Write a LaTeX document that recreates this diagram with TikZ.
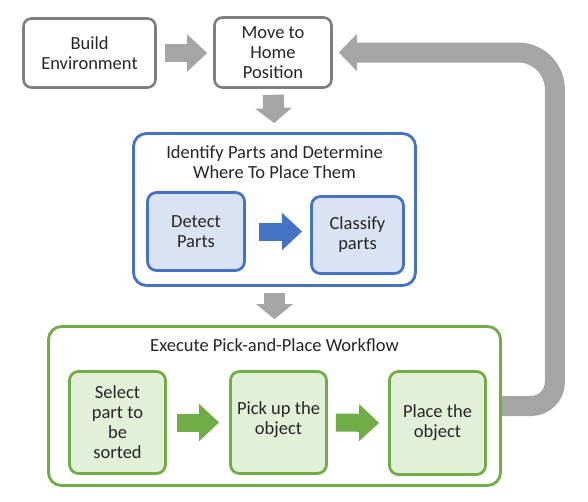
\documentclass[tikz,border=0pt]{standalone}
\usepackage{fontspec}
\setmainfont{Carlito}
\usetikzlibrary{arrows.meta}
\definecolor{boxgray}{HTML}{7F7F7F}
\definecolor{arrgray}{HTML}{A5A5A5}
\definecolor{bblue}{HTML}{4472C4}
\definecolor{lblue}{HTML}{DAE3F3}
\definecolor{bgreen}{HTML}{70AD47}
\definecolor{lgreen}{HTML}{E2F0D9}
\definecolor{txt}{HTML}{262626}
\begin{document}
\begin{tikzpicture}[x=1pt,y=-1pt,
  every node/.style={font=\fontsize{18.5}{20}\selectfont, text=txt, align=center, inner sep=0pt},
  graybox/.style={draw=boxgray, line width=2.6pt, rounded corners=8pt, fill=white},
  bluebig/.style={draw=bblue, line width=2.8pt, rounded corners=13pt, fill=white},
  bluesmall/.style={draw=bblue, line width=2.8pt, rounded corners=9pt, fill=lblue},
  greenbig/.style={draw=bgreen, line width=2.8pt, rounded corners=13pt, fill=white},
  greensmall/.style={draw=bgreen, line width=2.8pt, rounded corners=9pt, fill=lgreen},
  blockarrow/.style={line width=18pt, -{Triangle[length=20pt,width=36pt]}},
  downarrow/.style={line width=21pt, -{Triangle[length=15pt,width=36pt]}},
  looparrow/.style={draw=arrgray, line width=20pt, -{Triangle[length=18pt,width=36pt]}},
]
\useasboundingbox (0,0) rectangle (588,501);

% top row
\node[graybox, minimum width=132pt, minimum height=69pt] (build) at (89.5,53) {Build\\Environment};
\node[graybox, minimum width=117pt, minimum height=70pt] (move) at (273,52.5) {Move to\\Home\\Position};

% blue group
\node[bluebig, minimum width=282pt, minimum height=152pt] (blue) at (274.5,209.5) {};
\node (bluetitle) at (274.5,162) {Identify Parts and Determine\\Where To Place Them};
\node[bluesmall, minimum width=97pt, minimum height=78pt] (detect) at (196,231.5) {Detect\\Parts};
\node[bluesmall, minimum width=92pt, minimum height=77pt] (classify) at (357.5,235) {Classify\\parts};

% green group
\node[greenbig, minimum width=452pt, minimum height=159pt] (green) at (274.5,406) {};
\node (greentitle) at (274.5,345) {Execute Pick-and-Place Workflow};
\node[greensmall, minimum width=96pt, minimum height=102pt] (select) at (117.5,422.5) {Select\\part to\\be\\sorted};
\node[greensmall, minimum width=96pt, minimum height=102pt] (pick) at (278.5,422.5) {};
\node (picktext) at (278.5,420) {Pick up the\\object};
\node[greensmall, minimum width=96pt, minimum height=103pt] (place) at (437.5,423) {Place the\\object};

% connectors
\draw[blockarrow, draw=arrgray, shorten <=8pt, shorten >=6pt] (build.east) -- (build.east -| move.west);
\draw[downarrow, draw=arrgray, shorten <=6pt, shorten >=9pt] (move.south) -- (blue.north);
\draw[blockarrow, draw=bblue, shorten <=13pt, shorten >=8pt] (detect.east) -- (detect.east -| classify.west);
\draw[downarrow, draw=arrgray, shorten <=6pt, shorten >=6pt] (blue.south) -- (green.north);
\draw[blockarrow, draw=bgreen, shorten <=10pt, shorten >=10pt] (select.east) -- (pick.west);
\draw[blockarrow, draw=bgreen, shorten <=8pt, shorten >=9pt] (pick.east) -- (place.west);
\coordinate (loopcorner) at ([xshift=53pt]green.east);
\draw[looparrow, shorten >=6pt] (green.east) [rounded corners=24pt] -- (loopcorner) [rounded corners=37pt] |- (move.east);
\end{tikzpicture}
\end{document}
